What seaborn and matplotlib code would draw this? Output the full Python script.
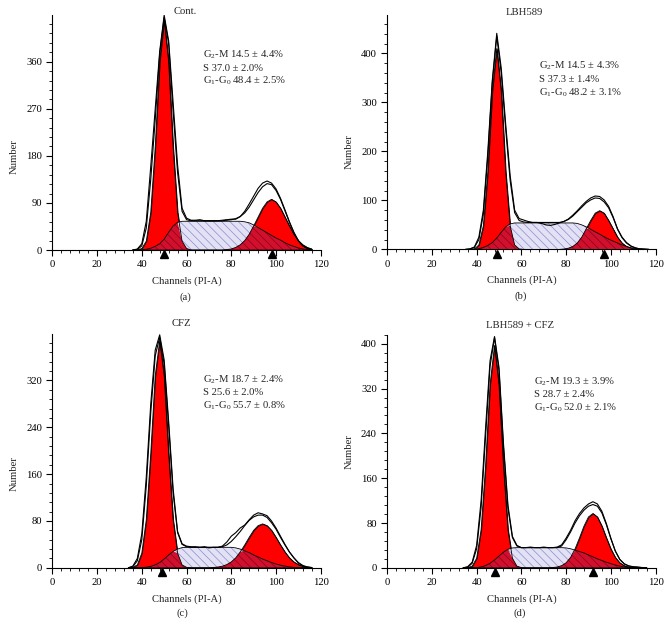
import matplotlib
matplotlib.use('Agg')
import matplotlib.pyplot as plt
from matplotlib.ticker import MultipleLocator
import numpy as np
import seaborn as sns

# ---- data ----
# (a) Cont.
chan_a = [36, 38, 40, 42, 44, 46, 48, 50, 52, 54, 56, 58, 60, 62, 64, 66, 68, 70, 72, 74, 76,
          78, 80, 82, 84, 86, 88, 90, 92, 94, 96, 98, 100, 102, 104, 106, 108, 110, 112, 114, 116]
g1_a = [0, 0, 3, 17, 72, 197, 360, 440, 360, 197, 72, 17, 3, 0, 0, 0, 0, 0, 0, 0, 0,
        0, 0, 0, 0, 0, 0, 0, 0, 0, 0, 0, 0, 0, 0, 0, 0, 0, 0, 0, 0]
g2_a = [0, 0, 0, 0, 0, 0, 0, 0, 0, 0, 0, 0, 0, 0, 0, 0, 0, 0, 0, 0, 0,
        1, 2, 5, 10, 18, 30, 46, 63, 80, 92, 97, 92, 80, 63, 46, 30, 18, 10, 5, 2]
s_a = [0, 0, 0.5, 1.5, 3.5, 7, 12, 21, 34, 46, 53, 55, 55, 55, 55, 55, 55, 55, 55, 55, 55,
       55, 55, 55, 55, 54, 52, 48, 43, 38, 33, 28, 23, 19, 14, 10, 7, 4, 2, 1, 0]
raw_a = [0, 2, 12, 55, 160, 270, 380, 449, 400, 282, 162, 80, 61, 57, 57, 58, 56, 56, 56, 56, 57,
         58, 59, 59, 64, 74, 88, 103, 118, 128, 132, 128, 117, 99, 77, 54, 34, 18, 8, 3, 1]
fit_a = [0, 1, 8, 42, 135, 250, 375, 445, 395, 265, 148, 74, 58, 56, 56, 56, 56, 56, 56, 56, 56,
         57, 58, 60, 64, 71, 82, 96, 110, 121, 127, 125, 114, 97, 75, 53, 33, 17, 8, 3, 1]
marks_a = [50, 98]
stats_a = ['G$_2$-M 14.5 ± 4.4%', 'S 37.0 ± 2.0%', 'G$_1$-G$_0$ 48.4 ± 2.5%']

# (b) LBH589
chan_b = [35, 37, 39, 41, 43, 45, 47, 49, 51, 53, 55, 57, 59, 61, 63, 65, 67, 69, 71, 73, 75,
          77, 79, 81, 83, 85, 87, 89, 91, 93, 95, 97, 99, 101, 103, 105, 107, 109, 111, 113, 115, 117]
g1_b = [0, 0, 1, 9, 48, 158, 323, 410, 323, 158, 48, 9, 1, 0, 0, 0, 0, 0, 0, 0, 0,
        0, 0, 0, 0, 0, 0, 0, 0, 0, 0, 0, 0, 0, 0, 0, 0, 0, 0, 0, 0, 0]
g2_b = [0, 0, 0, 0, 0, 0, 0, 0, 0, 0, 0, 0, 0, 0, 0, 0, 0, 0, 0, 0, 0,
        0, 0.8, 2.4, 6, 13, 25, 42, 59, 74, 79, 74, 59, 42, 25, 13, 6, 2.4, 0.8, 0, 0, 0]
s_b = [0, 0, 0.5, 1.5, 4, 8, 14, 23, 35, 46, 52, 54, 54, 54, 54, 54, 54, 54, 54, 54, 54,
       54, 54, 54, 54, 53, 50, 46, 41, 36, 31, 26, 21, 17, 13, 9, 6, 3.5, 2, 1, 0.3, 0]
raw_b = [0, 1, 5, 25, 80, 200, 345, 441, 370, 255, 150, 80, 63, 60, 57, 55, 55, 53, 50, 49, 51,
         54, 57, 62, 70, 79, 89, 98, 105, 109, 108, 101, 88, 67, 42, 25, 14, 7, 3, 1, 0.5, 0]
fit_b = [0, 1, 4, 20, 72, 190, 340, 435, 360, 245, 140, 75, 59, 56, 55, 55, 55, 55, 55, 55, 55,
         55, 57, 61, 68, 77, 86, 95, 101, 105, 104, 97, 85, 65, 41, 24, 13, 6.5, 3, 1, 0.5, 0]
marks_b = [49, 97]
stats_b = ['G$_2$-M 14.5 ± 4.3%', 'S 37.3 ± 1.4%', 'G$_1$-G$_0$ 48.2 ± 3.1%']

# (c) CFZ
chan_c = [34, 36, 38, 40, 42, 44, 46, 48, 50, 52, 54, 56, 58, 60, 62, 64, 66, 68, 70, 72, 74,
          76, 78, 80, 82, 84, 86, 88, 90, 92, 94, 96, 98, 100, 102, 104, 106, 108, 110, 112, 114, 116]
g1_c = [0, 0.8, 5, 25, 82, 195, 328, 388, 328, 195, 82, 25, 5, 0.8, 0, 0, 0, 0, 0, 0, 0,
        0, 0, 0, 0, 0, 0, 0, 0, 0, 0, 0, 0, 0, 0, 0, 0, 0, 0, 0, 0, 0]
g2_c = [0, 0, 0, 0, 0, 0, 0, 0, 0, 0, 0, 0, 0, 0, 0, 0, 0, 0, 0, 0.6, 1.3,
        2.7, 5.5, 10, 17, 27, 39, 52, 64, 72, 75, 72, 64, 52, 39, 27, 17, 10, 5.5, 2.7, 1.3, 0.6]
s_c = [0, 0, 0, 0.5, 1, 2.5, 5, 9, 15, 22, 28, 32, 34.5, 35, 35, 35, 35, 35, 35, 35, 35,
       35, 35, 35, 34, 32, 29, 26, 22, 18.5, 15, 12, 9, 6.5, 4.5, 3, 1.5, 0.7, 0.2, 0, 0, 0]
raw_c = [0, 3, 16, 58, 155, 280, 372, 398, 355, 250, 135, 62, 41, 37, 36, 36, 35, 36, 34, 35, 35,
         37, 44, 54, 60, 68, 73, 82, 90, 94, 92, 89, 80, 68, 54, 40, 27, 17, 8, 3, 1, 0]
fit_c = [0, 2, 12, 48, 140, 265, 362, 394, 348, 243, 128, 60, 40, 36, 35, 35, 35, 35, 35, 35, 35,
         36, 39, 45, 53, 62, 72, 81, 87, 90, 90, 86, 77, 66, 52, 39, 27, 17, 9, 4, 1.5, 0.5]
marks_c = [49]
stats_c = ['G$_2$-M 18.7 ± 2.4%', 'S 25.6 ± 2.0%', 'G$_1$-G$_0$ 55.7 ± 0.8%']

# (d) LBH589 + CFZ
chan_d = [34, 36, 38, 40, 42, 44, 46, 48, 50, 52, 54, 56, 58, 60, 62, 64, 66, 68, 70, 72, 74,
          76, 78, 80, 82, 84, 86, 88, 90, 92, 94, 96, 98, 100, 102, 104, 106, 108, 110, 112, 114, 116]
g1_d = [0, 0.4, 3, 17, 68, 182, 327, 397, 327, 182, 68, 17, 3, 0.4, 0, 0, 0, 0, 0, 0, 0,
        0, 0, 0, 0, 0, 0, 0, 0, 0, 0, 0, 0, 0, 0, 0, 0, 0, 0, 0, 0, 0]
g2_d = [0, 0, 0, 0, 0, 0, 0, 0, 0, 0, 0, 0, 0, 0, 0, 0, 0, 0, 0, 0, 0.5,
        1.4, 3.8, 8.9, 18.5, 33.7, 53.5, 74.5, 90.8, 97, 90.8, 74.5, 53.5, 33.7, 18.5, 8.9, 3.8, 1.4, 0.5, 0, 0, 0]
s_d = [0, 0, 0, 0.5, 1.5, 4, 8, 14, 21, 28, 33, 35.5, 36, 36, 36, 36, 36, 36, 36, 36, 36,
       36, 36, 35.5, 34, 31.5, 29, 26.5, 23, 19.5, 16, 13, 10, 7.5, 5, 3, 1.5, 0.7, 0.2, 0, 0, 0]
raw_d = [0, 2, 10, 40, 120, 250, 370, 413, 358, 222, 112, 56, 40, 36, 36, 37, 36, 36, 37, 36, 36,
         37, 41, 53, 67, 84, 97, 107, 114, 118, 114, 101, 79, 53, 30, 15, 7, 3.5, 2, 1.5, 0.5, 0]
fit_d = [0, 1, 8, 34, 108, 235, 360, 411, 352, 215, 106, 54, 39, 36, 36, 36, 36, 36, 36, 36, 36,
         36, 39, 50, 64, 80, 93, 103, 110, 113, 110, 98, 77, 52, 30, 15, 7, 3, 1.5, 0.8, 0.3, 0]
marks_d = [48, 92]
stats_d = ['G$_2$-M 19.3 ± 3.9%', 'S 28.7 ± 2.4%', 'G$_1$-G$_0$ 52.0 ± 2.1%']

titles = ['Cont.', 'LBH589', 'CFZ', 'LBH589 + CFZ']
letters = ['(a)', '(b)', '(c)', '(d)']
y_tops = [449, 478, 399, 416]
y_steps = [90, 100, 80, 80]

panels = [
    dict(chan=chan_a, g1=g1_a, g2=g2_a, s=s_a, raw=raw_a, fit=fit_a, marks=marks_a, stats=stats_a),
    dict(chan=chan_b, g1=g1_b, g2=g2_b, s=s_b, raw=raw_b, fit=fit_b, marks=marks_b, stats=stats_b),
    dict(chan=chan_c, g1=g1_c, g2=g2_c, s=s_c, raw=raw_c, fit=fit_c, marks=marks_c, stats=stats_c),
    dict(chan=chan_d, g1=g1_d, g2=g2_d, s=s_d, raw=raw_d, fit=fit_d, marks=marks_d, stats=stats_d),
]

# layout (axes rect, title pos, ylabel y, stats anchor, letter pos)
layout = [
    dict(rect=[0.078, 0.605, 0.400, 0.371], title=(0.494, 1.017), ylab=0.40, stats=(67.5, 0.83), letter=(0.494, -0.20)),
    dict(rect=[0.577, 0.606, 0.400, 0.370], title=(0.512, 1.010), ylab=0.417, stats=(67.8, 0.782), letter=(0.498, -0.20)),
    dict(rect=[0.078, 0.103, 0.400, 0.369], title=(0.482, 1.048), ylab=0.405, stats=(67.5, 0.806), letter=(0.484, -0.193)),
    dict(rect=[0.577, 0.103, 0.400, 0.368], title=(0.494, 1.039), ylab=0.50, stats=(65.7, 0.80), letter=(0.494, -0.196)),
]

sns.set_style('ticks')
plt.rcParams['font.family'] = ['Liberation Serif', 'DejaVu Serif']
plt.rcParams['mathtext.fontset'] = 'custom'
plt.rcParams['mathtext.rm'] = 'Liberation Serif'
plt.rcParams['mathtext.it'] = 'Liberation Serif:italic'
plt.rcParams['mathtext.default'] = 'regular'
plt.rcParams['hatch.linewidth'] = 0.5

FS = 7.7
HATCH = '\\\\\\\\'
fig = plt.figure(figsize=(6.71, 6.33), dpi=100)

for i, (p, lay) in enumerate(zip(panels, layout)):
    ax = fig.add_axes(lay['rect'])
    chan = p['chan']

    # G1 and G2 peaks
    ax.fill_between(chan, p['g1'], facecolor='#ff0000', edgecolor='black', linewidth=0.6, zorder=2)
    ax.fill_between(chan, p['g2'], facecolor='#ff0000', edgecolor='black', linewidth=0.6, zorder=2)
    # S phase, hatched (lavender on white, crimson where it sits over a peak)
    ax.fill_between(chan, p['s'], facecolor='#e2e2f4', edgecolor='#8c8cd0',
                    hatch=HATCH, linewidth=0, zorder=3)
    for g in (p['g1'], p['g2']):
        ov = np.minimum(p['s'], g)
        ax.fill_between(chan, ov, facecolor='#d0102c', edgecolor='#900018',
                        hatch=HATCH, linewidth=0, zorder=3.5)
    ax.plot(chan, p['g1'], color='black', linewidth=0.6, zorder=3.8)
    ax.plot(chan, p['g2'], color='black', linewidth=0.6, zorder=3.8)
    ax.plot(chan, p['s'], color='black', linewidth=0.6, zorder=4)

    # measured histogram and model fit
    sns.lineplot(x=chan, y=p['raw'], ax=ax, color='black', linewidth=0.8, sort=False, estimator=None, zorder=5)
    sns.lineplot(x=chan, y=p['fit'], ax=ax, color='black', linewidth=0.8, sort=False, estimator=None, zorder=5)

    # peak markers below the axis
    ax.plot(p['marks'], [-0.018] * len(p['marks']), linestyle='none', marker='^', color='black',
            markersize=5.5, transform=ax.get_xaxis_transform(), clip_on=False, zorder=6)

    ax.set_xlim(0, 120)
    ax.set_ylim(0, y_tops[i])
    ax.xaxis.set_major_locator(MultipleLocator(20))
    ax.xaxis.set_minor_locator(MultipleLocator(4))
    ax.yaxis.set_major_locator(MultipleLocator(y_steps[i]))
    ax.yaxis.set_minor_locator(MultipleLocator(y_steps[i] / 5))
    ax.tick_params(which='major', direction='out', length=4.5, width=0.8, labelsize=FS, pad=3, colors='black')
    ax.tick_params(which='minor', direction='out', length=2.5, width=0.6, colors='black')
    sns.despine(ax=ax)
    for sp in ['left', 'bottom']:
        ax.spines[sp].set_linewidth(0.8)
        ax.spines[sp].set_color('black')

    ax.set_xlabel('Channels (PI-A)', fontsize=FS)
    ax.xaxis.set_label_coords(0.5, -0.112)
    ax.set_ylabel('Number', fontsize=FS)
    ax.yaxis.set_label_coords(-0.125, lay['ylab'])

    ax.text(lay['title'][0], lay['title'][1], titles[i], transform=ax.transAxes,
            ha='center', va='center', fontsize=FS)
    ax.text(lay['letter'][0], lay['letter'][1], letters[i], transform=ax.transAxes,
            ha='center', va='center', fontsize=FS)

    sx, sy = lay['stats']
    for k, line in enumerate(p['stats']):
        ax.annotate(line, xy=(sx, sy), xycoords=('data', 'axes fraction'),
                    xytext=(0, -9.4 * k), textcoords='offset points',
                    ha='left', va='center', fontsize=FS)

fig.savefig('out.png', dpi=100)
